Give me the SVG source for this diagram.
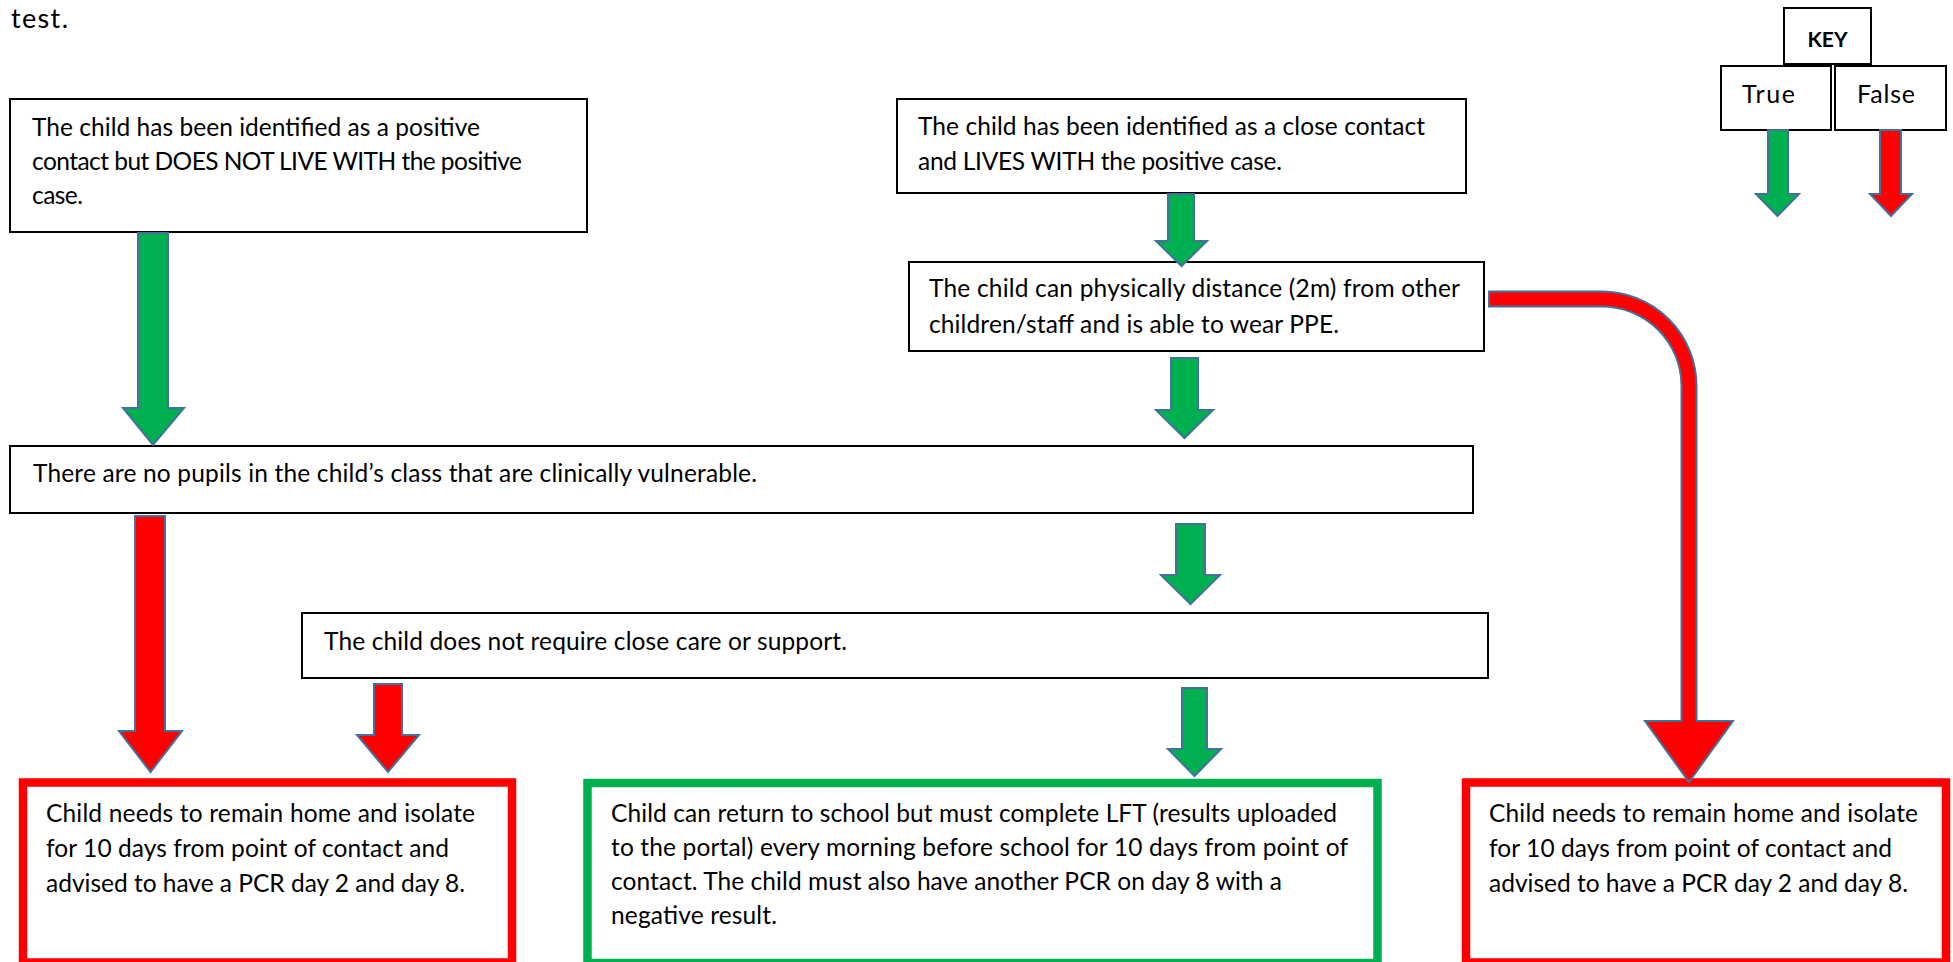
<svg xmlns="http://www.w3.org/2000/svg" width="1953" height="962" viewBox="0 0 1953 962">
<style>
text{font-family:Lato,"Liberation Sans",sans-serif;font-size:24.5px;fill:#000}
.box{fill:#fff;stroke:#000;stroke-width:2}
.rbox{fill:#fff;stroke:#FF0000;stroke-width:8.5}
.gbox{fill:#fff;stroke:#00B050;stroke-width:8.5}
.ga{fill:#00B050;stroke:#41719C;stroke-width:2;stroke-linejoin:miter}
.ra{fill:#FF0000;stroke:#41719C;stroke-width:2;stroke-linejoin:miter}
.key{font-size:25px}
.keyb{font-size:21px;font-weight:bold}
.title{font-size:27px}
</style>
<rect width="1953" height="962" fill="#fff"/>
<text class="title" x="11" y="28" textLength="57">test.</text>

<g id="node-not-live-with">
<rect class="box" x="10" y="99" width="577" height="133"/>
<text x="32" y="136" textLength="448">The child has been identified as a positive</text>
<text x="32" y="170" textLength="490">contact but DOES NOT LIVE WITH the positive</text>
<text x="32" y="204" textLength="51">case.</text>
</g>

<g id="node-lives-with">
<rect class="box" x="897" y="99" width="569" height="94"/>
<text x="918" y="135" textLength="507">The child has been identified as a close contact</text>
<text x="918" y="170" textLength="364">and LIVES WITH the positive case.</text>
</g>

<g id="node-distance">
<rect class="box" x="909" y="262" width="575" height="89"/>
<text x="929" y="297" textLength="531">The child can physically distance (2m) from other</text>
<text x="929" y="333" textLength="410">children/staff and is able to wear PPE.</text>
</g>

<g id="node-vulnerable">
<rect class="box" x="10" y="446" width="1463" height="67"/>
<text x="33" y="482" textLength="724">There are no pupils in the child’s class that are clinically vulnerable.</text>
</g>

<g id="node-close-care">
<rect class="box" x="302" y="613" width="1186" height="65"/>
<text x="324" y="650" textLength="523">The child does not require close care or support.</text>
</g>

<g id="node-isolate-left">
<rect class="rbox" x="23" y="782.5" width="489" height="180"/>
<text x="46" y="822" textLength="429">Child needs to remain home and isolate</text>
<text x="46" y="857" textLength="403">for 10 days from point of contact and</text>
<text x="46" y="892" textLength="419">advised to have a PCR day 2 and day 8.</text>
</g>

<g id="node-return">
<rect class="gbox" x="587.5" y="783" width="790" height="180"/>
<text x="611" y="822" textLength="726">Child can return to school but must complete LFT (results uploaded</text>
<text x="611" y="856" textLength="737">to the portal) every morning before school for 10 days from point of</text>
<text x="611" y="890" textLength="671">contact. The child must also have another PCR on day 8 with a</text>
<text x="611" y="924" textLength="166">negative result.</text>
</g>

<g id="node-isolate-right">
<rect class="rbox" x="1466" y="782.5" width="480" height="180"/>
<text x="1489" y="822" textLength="429">Child needs to remain home and isolate</text>
<text x="1489" y="857" textLength="403">for 10 days from point of contact and</text>
<text x="1489" y="892" textLength="419">advised to have a PCR day 2 and day 8.</text>
</g>

<g id="key">
<rect class="box" x="1784" y="8" width="87" height="56"/>
<text class="keyb" x="1827.5" y="47" text-anchor="middle">KEY</text>
<rect class="box" x="1721" y="66" width="110" height="64"/>
<text class="key" x="1742" y="103" textLength="53">True</text>
<rect class="box" x="1835" y="66" width="111" height="64"/>
<text class="key" x="1857" y="103" textLength="58">False</text>
<polygon class="ga" points="1768,130 1788,130 1788,194 1799,194 1777.5,216 1756,194 1768,194"/>
<polygon class="ra" points="1880,130 1901,130 1901,194 1912,194 1891,216 1870,194 1880,194"/>
</g>

<g id="connectors">
<polygon class="ga" points="138,233 168,233 168,408 184,408 153,445 123,408 138,408"/>
<polygon class="ga" points="1168,194 1194,194 1194,241 1207,241 1181.5,266 1156,241 1168,241"/>
<polygon class="ga" points="1171,358 1198,358 1198,410 1213,410 1184.5,438 1156,410 1171,410"/>
<polygon class="ga" points="1176,524 1205,524 1205,575 1220,575 1190.5,604 1161,575 1176,575"/>
<polygon class="ga" points="1182,688 1207,688 1207,749 1221,749 1194.5,776 1168,749 1182,749"/>
<polygon class="ra" points="135,516 165,516 165,731 182,731 150.5,772 119,731 135,731"/>
<polygon class="ra" points="374,684 402,684 402,735 419,735 388,772 357,735 374,735"/>
<path class="ra" d="M1489,291.5 H1602 A94.5,94.5 0 0 1 1696.5,386 V721 H1733 L1689,782 L1645,721 H1681.5 V386 A79.5,79.5 0 0 0 1602,306.5 H1489 Z"/>
</g>
</svg>
